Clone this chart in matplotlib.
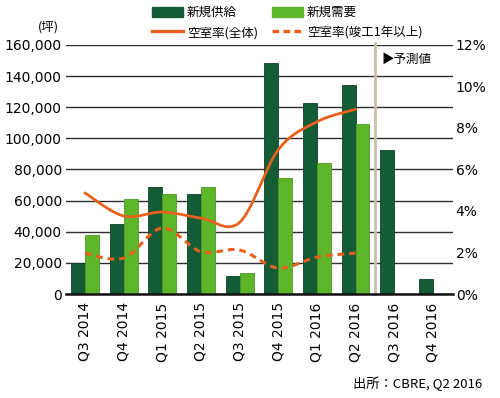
import numpy as np
import matplotlib
matplotlib.use("Agg")
import matplotlib.pyplot as plt
from matplotlib.patches import Patch
from matplotlib.lines import Line2D

plt.rcParams['font.family'] = ['Noto Sans CJK JP', 'DejaVu Sans']

categories = ["Q3 2014", "Q4 2014", "Q1 2015", "Q2 2015", "Q3 2015",
              "Q4 2015", "Q1 2016", "Q2 2016", "Q3 2016", "Q4 2016"]
new_supply = [20000, 45000, 68500, 64000, 11600, 148500, 122700, 134300, 92500, 9600]
new_demand = [37700, 61000, 64000, 68500, 13300, 74700, 84400, 109200, np.nan, np.nan]
vacancy_all = [4.87, 3.76, 3.95, 3.66, 3.45, 6.95, 8.3, 8.9]
vacancy_1yr = [1.97, 1.73, 3.18, 2.04, 2.12, 1.25, 1.78, 1.97]
left_ticks = [0, 20000, 40000, 60000, 80000, 100000, 120000, 140000, 160000]
right_ticks = [0, 2, 4, 6, 8, 10, 12]

DARK = "#135c35"
LIGHT = "#5db52a"
ORANGE = "#e8601c"


def smooth(xs, ys, n=30):
    """Excel-style smoothed line (Catmull-Rom Bezier) for rendering."""
    xs = np.asarray(xs, float)
    ys = np.asarray(ys, float)
    px, py = [], []
    m = len(xs)
    for i in range(m - 1):
        p0 = (xs[max(i - 1, 0)], ys[max(i - 1, 0)])
        p1 = (xs[i], ys[i])
        p2 = (xs[i + 1], ys[i + 1])
        p3 = (xs[min(i + 2, m - 1)], ys[min(i + 2, m - 1)])
        c1 = (p1[0] + (p2[0] - p0[0]) / 6, p1[1] + (p2[1] - p0[1]) / 6)
        c2 = (p2[0] - (p3[0] - p1[0]) / 6, p2[1] - (p3[1] - p1[1]) / 6)
        t = np.linspace(0, 1, n, endpoint=(i == m - 2))
        b0 = (1 - t) ** 3
        b1 = 3 * (1 - t) ** 2 * t
        b2 = 3 * (1 - t) * t ** 2
        b3 = t ** 3
        px.extend(b0 * p1[0] + b1 * c1[0] + b2 * c2[0] + b3 * p2[0])
        py.extend(b0 * p1[1] + b1 * c1[1] + b2 * c2[1] + b3 * p2[1])
    return np.array(px), np.array(py)


fig = plt.figure(figsize=(5.0, 3.98), dpi=100)
ax = fig.add_axes([0.132, 0.2613, 0.774, 0.6257])
x = np.arange(len(categories))
w = 0.36

ax.bar(x - w / 2, new_supply, width=w, color=DARK, edgecolor="#0b4226", linewidth=0.6, zorder=3)
ax.bar(x + w / 2, new_demand, width=w, color=LIGHT, edgecolor="#4c9a22", linewidth=0.6, zorder=3)

ax.set_ylim(0, 160000)
ax.set_xlim(-0.49, 9.52)
ax.set_yticks(left_ticks)
ax.set_yticklabels([f"{v:,}" for v in left_ticks], family=['DejaVu Sans'], fontsize=10)
ax.yaxis.grid(True, color="#2e2e2e", linewidth=1.0, zorder=1)
ax.set_axisbelow(True)
ax.tick_params(axis='y', length=0, pad=3)
ax.set_xticks(x)
ax.set_xticklabels(categories, rotation=90, family=['DejaVu Sans'], fontsize=10)
ax.tick_params(axis='x', length=0, pad=6)
for s in ["top", "right", "left"]:
    ax.spines[s].set_visible(False)
ax.spines["bottom"].set_linewidth(1.8)
ax.spines["bottom"].set_color("#111111")
ax.spines["bottom"].set_zorder(6)

ax.axvline(7.49, ymin=0, ymax=1.008, color="#c8c1aa", linewidth=2.0, zorder=4, clip_on=False)
ax.text(7.66, 150500, "▶予測値", fontsize=9, va="center", ha="left", zorder=7)

ax2 = ax.twinx()
ax2.set_ylim(0, 12)
ax2.set_yticks(right_ticks)
ax2.set_yticklabels([f"{v}%" for v in right_ticks], family=['DejaVu Sans'], fontsize=10)
ax2.tick_params(axis='y', length=0, pad=2)
for s in ["top", "right", "left", "bottom"]:
    ax2.spines[s].set_visible(False)

xv = np.arange(len(vacancy_all))
sx, sy = smooth(xv, vacancy_all)
ax2.plot(sx, sy, color=ORANGE, linewidth=2.0, solid_capstyle="round", zorder=5)
dx, dy = smooth(xv, vacancy_1yr)
ax2.plot(dx, dy, color=ORANGE, linewidth=2.2, linestyle=(0, (2.2, 1.6)), zorder=5)

handles = [Patch(facecolor=DARK, edgecolor=DARK), Patch(facecolor=LIGHT, edgecolor=LIGHT),
           Line2D([], [], color=ORANGE, linewidth=2.4),
           Line2D([], [], color=ORANGE, linewidth=2.4, linestyle=(0, (2.0, 1.3)))]
labels = ["新規供給", "新規需要", "空室率(全体)", "空室率(竣工1年以上)"]
leg = fig.legend([handles[0], handles[2], handles[1], handles[3]],
                 [labels[0], labels[2], labels[1], labels[3]],
                 ncol=2, loc="upper left", bbox_to_anchor=(0.294, 0.997),
                 frameon=False, fontsize=9, handlelength=2.5, handleheight=0.85,
                 handletextpad=0.3, columnspacing=1.1, labelspacing=0.55, borderaxespad=0)

fig.text(0.118, 0.932, "(坪)", fontsize=9, ha="right", va="center")
fig.text(0.964, 0.035, "出所：CBRE, Q2 2016", fontsize=9.5, ha="right", va="center")

fig.savefig("out.png", dpi=100)
